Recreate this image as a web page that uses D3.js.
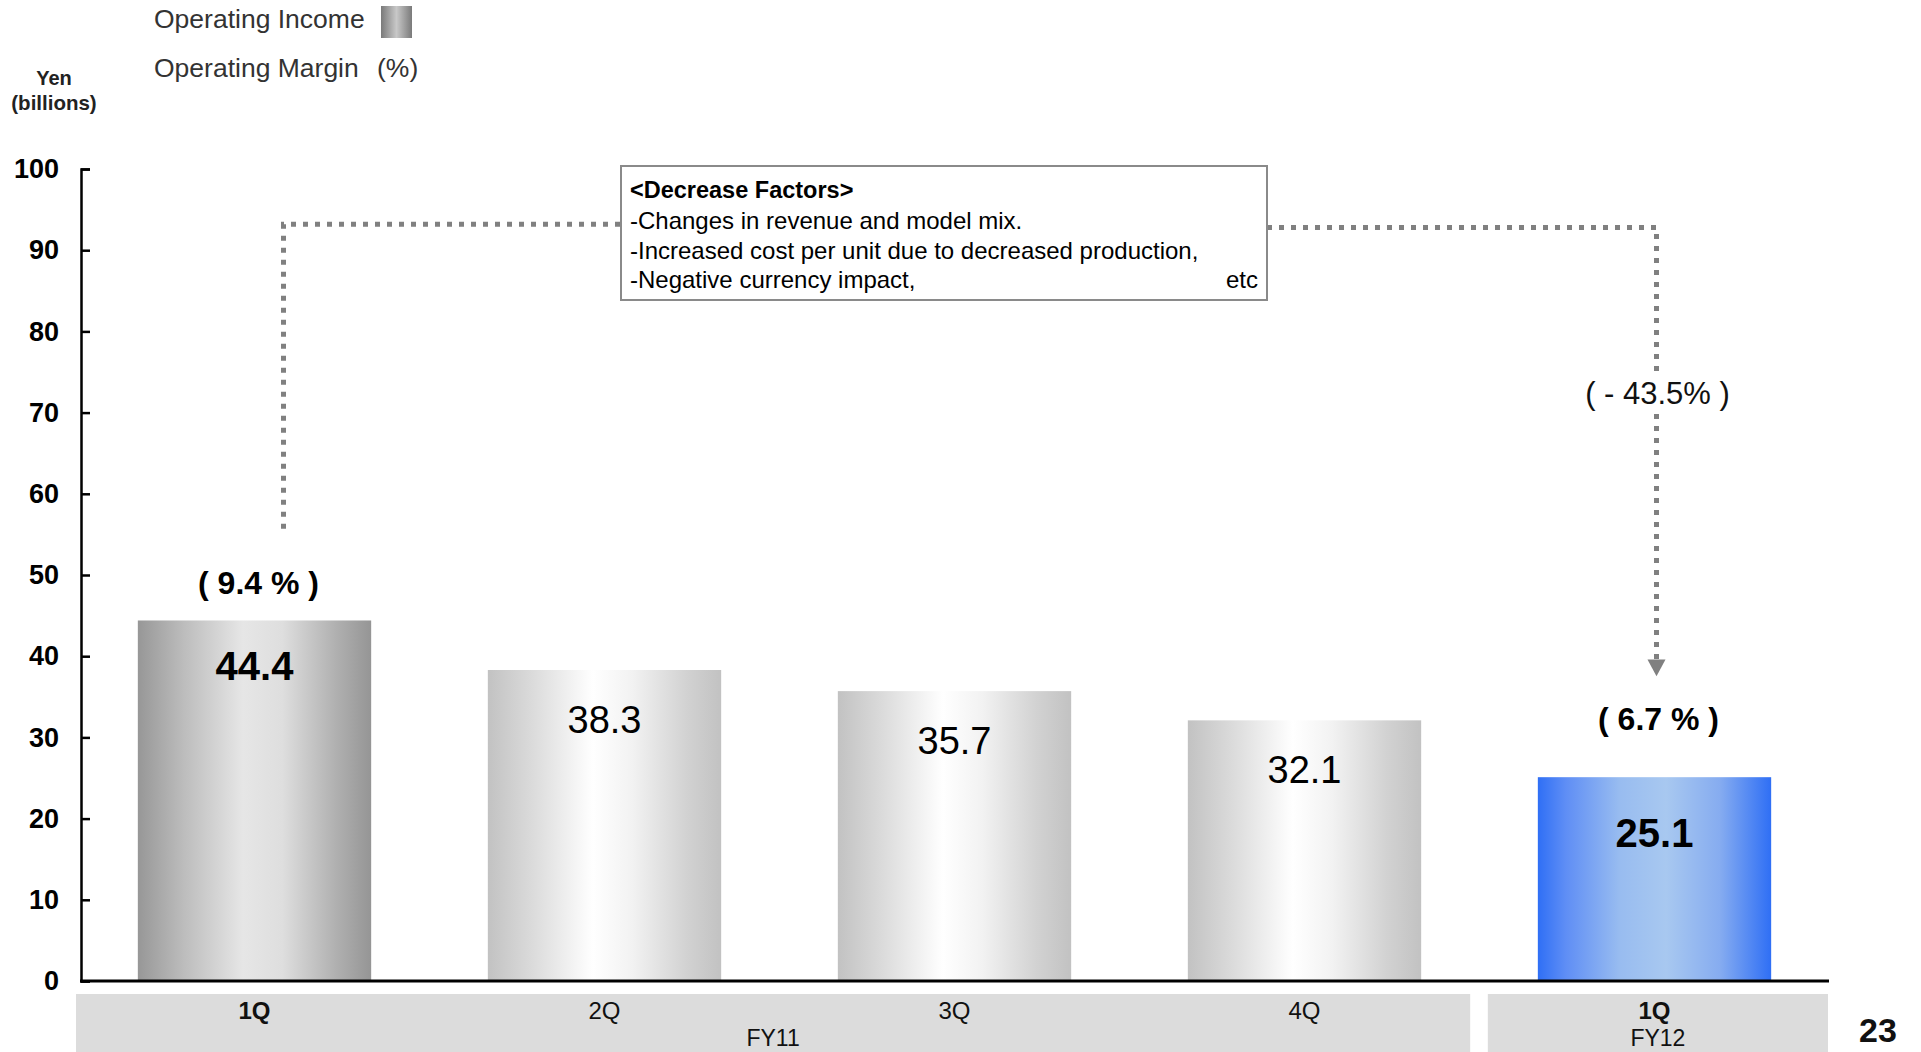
<!DOCTYPE html>
<html>
<head>
<meta charset="utf-8">
<script src="https://cdn.jsdelivr.net/npm/d3@7"></script>
<style>
  html, body { margin: 0; padding: 0; background: #fff; }
  svg { display: block; font-family: "Liberation Sans", Arial, sans-serif; }
</style>
</head>
<body>
<svg id="chart" width="1921" height="1052"></svg>
<script>
// ---- data ----
const quarters = ["1Q", "2Q", "3Q", "4Q", "1Q "];
const quarterLabels = ["1Q", "2Q", "3Q", "4Q", "1Q"];
const operatingIncome = [44.4, 38.3, 35.7, 32.1, 25.1];
const operatingMargin = [9.4, null, null, null, 6.7];
const fiscalYears = ["FY11", "FY12"];
const fiscalYearSpans = [[0, 3], [4, 4]];
const yTicks = [0, 10, 20, 30, 40, 50, 60, 70, 80, 90, 100];
const changeLabel = "( - 43.5% )";
const factorTitle = "<Decrease Factors>";
const factorLines = ["-Changes in revenue and model mix.",
                     "-Increased cost per unit due to decreased production,",
                     "-Negative currency impact,"];
const pageNumber = "23";

// ---- setup ----
const svg = d3.select("#chart");
const x = d3.scaleBand().domain(quarters).range([79.5, 1829.5])
  .paddingInner(1/3).paddingOuter(1/6);
const y = d3.scaleLinear().domain([0, 100]).range([981, 169]);

const defs = svg.append("defs");
function grad(id, stops) {
  const g = defs.append("linearGradient").attr("id", id)
    .attr("x1", "0%").attr("x2", "100%").attr("y1", "0%").attr("y2", "0%");
  stops.forEach(s => g.append("stop").attr("offset", s[0]).attr("stop-color", s[1]));
}
grad("gDark", [[0, "#979797"], [0.2, "#bdbdbd"], [0.45, "#e6e6e6"], [0.62, "#dedede"], [0.85, "#b0b0b0"], [1, "#959595"]]);
grad("gLight", [[0, "#c2c2c2"], [0.2, "#dcdcdc"], [0.45, "#ffffff"], [0.62, "#f2f2f2"], [0.85, "#d2d2d2"], [1, "#c2c2c2"]]);
grad("gBlue", [[0, "#2f6ff5"], [0.12, "#5f8ef5"], [0.35, "#98bcf0"], [0.55, "#a8c8f0"], [0.78, "#86acf0"], [1, "#2f6ff5"]]);
grad("gLegend", [[0, "#7a7a7a"], [0.5, "#c8c8c8"], [1, "#7a7a7a"]]);

const fills = ["url(#gDark)", "url(#gLight)", "url(#gLight)", "url(#gLight)", "url(#gBlue)"];
const bold = [true, false, false, false, true];

// ---- category boxes ----
const boxG = svg.append("g");
fiscalYears.forEach((fy, i) => {
  const [a, b] = fiscalYearSpans[i];
  const x0 = (a === 0 ? 76 : x(quarters[a]) - 50);
  const x1 = (b === quarters.length - 1 ? 1828 : x(quarters[b]) + x.bandwidth() + 49);
  boxG.append("rect").attr("x", x0).attr("y", 994).attr("width", x1 - x0).attr("height", 70)
    .attr("fill", "#dcdcdc");
  boxG.append("text").attr("x", (x0 + x1) / 2).attr("y", 1046).attr("text-anchor", "middle")
    .attr("font-size", 23).attr("fill", "#111").text(fy);
});
svg.append("g").selectAll("text").data(quarters).join("text")
  .attr("x", d => x(d) + x.bandwidth() / 2)
  .attr("y", 1019)
  .attr("text-anchor", "middle")
  .attr("font-size", 24)
  .attr("font-weight", (d, i) => bold[i] ? "bold" : "normal")
  .attr("fill", "#111")
  .text((d, i) => quarterLabels[i]);

// ---- bars ----
svg.append("g").selectAll("rect").data(operatingIncome).join("rect")
  .attr("x", (d, i) => x(quarters[i]))
  .attr("y", d => y(d))
  .attr("width", x.bandwidth())
  .attr("height", d => y(0) - y(d))
  .attr("fill", (d, i) => fills[i]);

const valueOffset = [60, 63, 63, 63, 70];
svg.append("g").selectAll("text").data(operatingIncome).join("text")
  .attr("x", (d, i) => x(quarters[i]) + x.bandwidth() / 2)
  .attr("y", (d, i) => y(d) + valueOffset[i])
  .attr("text-anchor", "middle")
  .attr("font-size", (d, i) => bold[i] ? 40 : 38)
  .attr("font-weight", (d, i) => bold[i] ? "bold" : "normal")
  .attr("fill", "#000")
  .text(d => d.toFixed(1));

// margin labels
const marginOffset = [26, null, null, null, 47];
svg.append("g").selectAll("text").data(operatingMargin).join("text")
  .filter(d => d !== null)
  .attr("x", (d, i) => x(quarters[operatingMargin.indexOf(d)]) + x.bandwidth() / 2 + 4)
  .attr("y", d => { const i = operatingMargin.indexOf(d); return y(operatingIncome[i]) - marginOffset[i]; })
  .attr("text-anchor", "middle")
  .attr("font-size", 32)
  .attr("font-weight", "bold")
  .attr("fill", "#000")
  .attr("xml:space", "preserve")
  .text(d => "( " + d.toFixed(1) + " % )");

// ---- axes ----
const yAxis = d3.axisLeft(y).tickValues(yTicks).tickSize(-9).tickPadding(22).tickFormat(d3.format("d"));
const yg = svg.append("g").attr("transform", "translate(81,0)").call(yAxis);
yg.select(".domain").attr("stroke", "#000").attr("stroke-width", 2.5);
yg.selectAll(".tick line").attr("stroke", "#000").attr("stroke-width", 2.5);
yg.selectAll(".tick text").attr("font-size", 27).attr("font-weight", "bold")
  .attr("font-family", "Liberation Sans, Arial, sans-serif").attr("fill", "#000");

svg.append("line").attr("x1", 80).attr("x2", 1829).attr("y1", y(0)).attr("y2", y(0))
  .attr("stroke", "#000").attr("stroke-width", 3);

// ---- labels ----
svg.append("text").attr("x", 54).attr("y", 85).attr("text-anchor", "middle")
  .attr("font-size", 20).attr("font-weight", "bold").attr("fill", "#222").text("Yen");
svg.append("text").attr("x", 54).attr("y", 110).attr("text-anchor", "middle")
  .attr("font-size", 20.5).attr("font-weight", "bold").attr("fill", "#222").text("(billions)");

svg.append("text").attr("x", 154).attr("y", 28).attr("font-size", 26.5).attr("fill", "#333").text("Operating Income");
svg.append("rect").attr("x", 381).attr("y", 6).attr("width", 31).attr("height", 32).attr("fill", "url(#gLegend)");
svg.append("text").attr("x", 154).attr("y", 77).attr("font-size", 26.5).attr("fill", "#333").text("Operating Margin");
svg.append("text").attr("x", 377).attr("y", 77).attr("font-size", 26.5).attr("fill", "#333").text("(%)");

svg.append("text").attr("x", 1878).attr("y", 1042).attr("text-anchor", "middle")
  .attr("font-size", 34).attr("font-weight", "bold").attr("fill", "#111").text(pageNumber);

// ---- connector lines ----
const lineColor = "#808080";
const leftX = x(quarters[0]) + x.bandwidth() / 2 + 29;
const rightX = x(quarters[4]) + x.bandwidth() / 2 + 2;
svg.append("path")
  .attr("d", `M${leftX},${y(55.7)} V${y(93.2)} H621`)
  .attr("fill", "none").attr("stroke", lineColor).attr("stroke-width", 5).attr("stroke-dasharray", "5,7");
svg.append("path")
  .attr("d", `M1267,${y(92.8)} H${rightX} V${y(38.4)}`)
  .attr("fill", "none").attr("stroke", lineColor).attr("stroke-width", 5).attr("stroke-dasharray", "5,7");
svg.append("path")
  .attr("d", `M${rightX - 9},${y(39.6)} H${rightX + 9} L${rightX},${y(38.4) + 7} Z`)
  .attr("fill", lineColor);

// change label with white backing
svg.append("rect").attr("x", rightX - 78).attr("y", 372).attr("width", 156).attr("height", 42).attr("fill", "#fff");
svg.append("text").attr("x", rightX + 1).attr("y", 404).attr("text-anchor", "middle")
  .attr("font-size", 31).attr("fill", "#111").attr("xml:space", "preserve").text(changeLabel);

// ---- annotation box ----
svg.append("rect").attr("x", 621).attr("y", 166).attr("width", 646).attr("height", 134)
  .attr("fill", "#fff").attr("stroke", "#8a8a8a").attr("stroke-width", 2);
svg.append("text").attr("x", 630).attr("y", 198).attr("font-size", 23.5).attr("font-weight", "bold")
  .attr("fill", "#000").text(factorTitle);
factorLines.forEach((t, i) => {
  svg.append("text").attr("x", 630).attr("y", 229 + i * 29.5).attr("font-size", 24)
    .attr("fill", "#000").text(t);
});
svg.append("text").attr("x", 1258).attr("y", 288).attr("text-anchor", "end").attr("font-size", 24)
  .attr("fill", "#000").text("etc");
</script>
</body>
</html>
